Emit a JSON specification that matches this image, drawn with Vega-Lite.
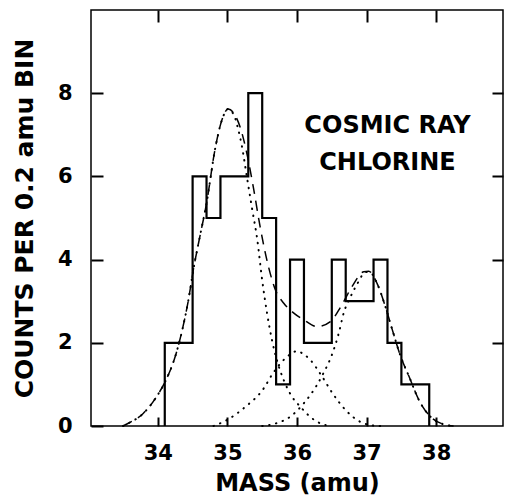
{
  "$schema": "https://vega.github.io/schema/vega-lite/v6.json",
  "width": 412,
  "height": 416,
  "autosize": {"type": "none"},
  "padding": {"left": 91, "top": 10, "right": 3, "bottom": 73},
  "background": "white",
  "config": {
    "view": {"stroke": "black", "strokeWidth": 1.5},
    "axis": {
      "domainColor": "black", "domainWidth": 1.5,
      "tickColor": "black", "tickWidth": 2,
      "labelColor": "black", "labelFont": "DejaVu Sans", "labelFontWeight": "bold", "labelFontSize": 21,
      "titleColor": "black", "titleFont": "DejaVu Sans", "titleFontWeight": "bold", "titleFontSize": 24,
      "grid": false
    }
  },
  "datasets": {
    "hist": [
      {"i": 0, "mass": 34.1, "count": 0},
      {"i": 1, "mass": 34.1, "count": 2},
      {"i": 2, "mass": 34.3, "count": 2},
      {"i": 3, "mass": 34.5, "count": 6},
      {"i": 4, "mass": 34.7, "count": 5},
      {"i": 5, "mass": 34.9, "count": 6},
      {"i": 6, "mass": 35.1, "count": 6},
      {"i": 7, "mass": 35.3, "count": 8},
      {"i": 8, "mass": 35.5, "count": 5},
      {"i": 9, "mass": 35.7, "count": 1},
      {"i": 10, "mass": 35.9, "count": 4},
      {"i": 11, "mass": 36.1, "count": 2},
      {"i": 12, "mass": 36.3, "count": 2},
      {"i": 13, "mass": 36.5, "count": 4},
      {"i": 14, "mass": 36.7, "count": 3},
      {"i": 15, "mass": 36.9, "count": 3},
      {"i": 16, "mass": 37.1, "count": 4},
      {"i": 17, "mass": 37.3, "count": 2},
      {"i": 18, "mass": 37.5, "count": 1},
      {"i": 19, "mass": 37.7, "count": 1},
      {"i": 20, "mass": 37.9, "count": 0}
    ],
    "fit": [
      {"series": "total", "mass": 33.50, "counts": 0.00},
      {"series": "total", "mass": 33.57, "counts": 0.06},
      {"series": "total", "mass": 33.79, "counts": 0.30},
      {"series": "total", "mass": 33.98, "counts": 0.70},
      {"series": "total", "mass": 34.13, "counts": 1.15},
      {"series": "total", "mass": 34.25, "counts": 1.67},
      {"series": "total", "mass": 34.34, "counts": 2.23},
      {"series": "total", "mass": 34.44, "counts": 3.03},
      {"series": "total", "mass": 34.51, "counts": 3.75},
      {"series": "total", "mass": 34.61, "counts": 4.60},
      {"series": "total", "mass": 34.70, "counts": 5.35},
      {"series": "total", "mass": 34.82, "counts": 6.63},
      {"series": "total", "mass": 34.92, "counts": 7.35},
      {"series": "total", "mass": 35.01, "counts": 7.62},
      {"series": "total", "mass": 35.10, "counts": 7.50},
      {"series": "total", "mass": 35.18, "counts": 7.20},
      {"series": "total", "mass": 35.28, "counts": 6.55},
      {"series": "total", "mass": 35.38, "counts": 5.67},
      {"series": "total", "mass": 35.47, "counts": 4.79},
      {"series": "total", "mass": 35.59, "counts": 3.83},
      {"series": "total", "mass": 35.69, "counts": 3.27},
      {"series": "total", "mass": 35.81, "counts": 2.95},
      {"series": "total", "mass": 35.95, "counts": 2.72},
      {"series": "total", "mass": 36.10, "counts": 2.55},
      {"series": "total", "mass": 36.29, "counts": 2.39},
      {"series": "total", "mass": 36.48, "counts": 2.51},
      {"series": "total", "mass": 36.63, "counts": 2.87},
      {"series": "total", "mass": 36.79, "counts": 3.35},
      {"series": "total", "mass": 36.96, "counts": 3.71},
      {"series": "total", "mass": 37.03, "counts": 3.72},
      {"series": "total", "mass": 37.15, "counts": 3.43},
      {"series": "total", "mass": 37.27, "counts": 2.87},
      {"series": "total", "mass": 37.37, "counts": 2.31},
      {"series": "total", "mass": 37.49, "counts": 1.67},
      {"series": "total", "mass": 37.61, "counts": 1.19},
      {"series": "total", "mass": 37.75, "counts": 0.63},
      {"series": "total", "mass": 37.92, "counts": 0.22},
      {"series": "total", "mass": 38.16, "counts": 0.02},
      {"series": "total", "mass": 38.25, "counts": 0.00},

      {"series": "c1", "mass": 33.50, "counts": 0.00},
      {"series": "c1", "mass": 33.57, "counts": 0.06},
      {"series": "c1", "mass": 33.79, "counts": 0.30},
      {"series": "c1", "mass": 33.98, "counts": 0.70},
      {"series": "c1", "mass": 34.13, "counts": 1.15},
      {"series": "c1", "mass": 34.25, "counts": 1.67},
      {"series": "c1", "mass": 34.34, "counts": 2.23},
      {"series": "c1", "mass": 34.44, "counts": 3.03},
      {"series": "c1", "mass": 34.51, "counts": 3.75},
      {"series": "c1", "mass": 34.61, "counts": 4.60},
      {"series": "c1", "mass": 34.70, "counts": 5.35},
      {"series": "c1", "mass": 34.82, "counts": 6.63},
      {"series": "c1", "mass": 34.92, "counts": 7.35},
      {"series": "c1", "mass": 35.01, "counts": 7.62},
      {"series": "c1", "mass": 35.10, "counts": 7.45},
      {"series": "c1", "mass": 35.16, "counts": 7.10},
      {"series": "c1", "mass": 35.21, "counts": 6.71},
      {"series": "c1", "mass": 35.28, "counts": 5.99},
      {"series": "c1", "mass": 35.35, "counts": 5.27},
      {"series": "c1", "mass": 35.43, "counts": 4.47},
      {"series": "c1", "mass": 35.50, "counts": 3.50},
      {"series": "c1", "mass": 35.57, "counts": 2.71},
      {"series": "c1", "mass": 35.64, "counts": 2.07},
      {"series": "c1", "mass": 35.71, "counts": 1.59},
      {"series": "c1", "mass": 35.81, "counts": 1.10},
      {"series": "c1", "mass": 35.93, "counts": 0.70},
      {"series": "c1", "mass": 36.05, "counts": 0.46},
      {"series": "c1", "mass": 36.19, "counts": 0.22},
      {"series": "c1", "mass": 36.34, "counts": 0.06},
      {"series": "c1", "mass": 36.50, "counts": 0.00},

      {"series": "c2", "mass": 34.80, "counts": 0.00},
      {"series": "c2", "mass": 35.00, "counts": 0.15},
      {"series": "c2", "mass": 35.25, "counts": 0.45},
      {"series": "c2", "mass": 35.52, "counts": 0.90},
      {"series": "c2", "mass": 35.64, "counts": 1.23},
      {"series": "c2", "mass": 35.76, "counts": 1.50},
      {"series": "c2", "mass": 35.90, "counts": 1.72},
      {"series": "c2", "mass": 36.00, "counts": 1.80},
      {"series": "c2", "mass": 36.10, "counts": 1.72},
      {"series": "c2", "mass": 36.19, "counts": 1.59},
      {"series": "c2", "mass": 36.36, "counts": 1.19},
      {"series": "c2", "mass": 36.51, "counts": 0.79},
      {"series": "c2", "mass": 36.70, "counts": 0.38},
      {"series": "c2", "mass": 36.91, "counts": 0.10},
      {"series": "c2", "mass": 37.06, "counts": 0.02},
      {"series": "c2", "mass": 37.20, "counts": 0.00},

      {"series": "c3", "mass": 35.50, "counts": 0.00},
      {"series": "c3", "mass": 35.69, "counts": 0.06},
      {"series": "c3", "mass": 35.90, "counts": 0.22},
      {"series": "c3", "mass": 36.10, "counts": 0.55},
      {"series": "c3", "mass": 36.27, "counts": 0.94},
      {"series": "c3", "mass": 36.38, "counts": 1.27},
      {"series": "c3", "mass": 36.51, "counts": 1.75},
      {"series": "c3", "mass": 36.60, "counts": 2.23},
      {"series": "c3", "mass": 36.67, "counts": 2.71},
      {"series": "c3", "mass": 36.77, "counts": 3.11},
      {"series": "c3", "mass": 36.87, "counts": 3.43},
      {"series": "c3", "mass": 36.96, "counts": 3.67},
      {"series": "c3", "mass": 37.00, "counts": 3.70},
      {"series": "c3", "mass": 37.08, "counts": 3.65},
      {"series": "c3", "mass": 37.15, "counts": 3.43},
      {"series": "c3", "mass": 37.27, "counts": 2.87},
      {"series": "c3", "mass": 37.37, "counts": 2.31},
      {"series": "c3", "mass": 37.49, "counts": 1.67},
      {"series": "c3", "mass": 37.61, "counts": 1.19},
      {"series": "c3", "mass": 37.75, "counts": 0.63},
      {"series": "c3", "mass": 37.92, "counts": 0.22},
      {"series": "c3", "mass": 38.16, "counts": 0.02},
      {"series": "c3", "mass": 38.25, "counts": 0.00}
    ],
    "labels": [
      {"mass": 37.30, "counts": 7.22, "text": "COSMIC RAY"},
      {"mass": 37.30, "counts": 6.32, "text": "CHLORINE"}
    ]
  },
  "layer": [
    {
      "data": {"name": "hist"},
      "mark": {"type": "line", "interpolate": "step-after", "color": "black", "strokeWidth": 2.2},
      "encoding": {
        "x": {"field": "mass", "type": "quantitative",
              "scale": {"domain": [33.04, 38.96], "nice": false, "zero": false},
              "axis": {"orient": "bottom", "title": "MASS (amu)", "values": [34, 35, 36, 37, 38], "zindex": 1,
                       "domain": false, "offset": -9, "tickSize": 9, "tickColor": "#000000", "tickWidth": 2,
                       "labelPadding": 16, "titleY": 73, "titleBaseline": "alphabetic"}},
        "y": {"field": "count", "type": "quantitative",
              "scale": {"domain": [0, 10], "nice": false},
              "axis": {"orient": "left", "title": "COUNTS PER 0.2 amu BIN", "values": [0, 2, 4, 6, 8], "zindex": 1,
                       "domain": false, "offset": -12, "tickSize": 12, "tickColor": "#000000", "tickWidth": 2,
                       "labelPadding": 19, "titleX": -71, "titleBaseline": "alphabetic", "titleFontSize": 25}},
        "order": {"field": "i", "type": "quantitative"}
      }
    },
    {
      "data": {"name": "fit"},
      "transform": [{"filter": "datum.series === 'total'"}],
      "mark": {"type": "line", "interpolate": "monotone", "color": "black", "strokeWidth": 1.5, "strokeDash": [10, 7]},
      "encoding": {
        "x": {"field": "mass", "type": "quantitative", "scale": {"domain": [33.04, 38.96], "nice": false, "zero": false}, "axis": null},
        "y": {"field": "counts", "type": "quantitative", "scale": {"domain": [0, 10], "nice": false}, "axis": null}
      }
    },
    {
      "data": {"name": "fit"},
      "transform": [{"filter": "datum.series !== 'total'"}],
      "mark": {"type": "line", "interpolate": "monotone", "color": "black", "strokeWidth": 2, "strokeDash": [0.5, 6.5], "strokeCap": "round"},
      "encoding": {
        "x": {"field": "mass", "type": "quantitative", "scale": {"domain": [33.04, 38.96], "nice": false, "zero": false}, "axis": null},
        "y": {"field": "counts", "type": "quantitative", "scale": {"domain": [0, 10], "nice": false}, "axis": null},
        "detail": {"field": "series", "type": "nominal"}
      }
    },
    {
      "data": {"name": "labels"},
      "mark": {"type": "text", "font": "DejaVu Sans", "fontWeight": "bold", "fontSize": 24, "color": "black", "align": "center", "baseline": "middle"},
      "encoding": {
        "x": {"field": "mass", "type": "quantitative",
              "scale": {"domain": [33.04, 38.96], "nice": false, "zero": false},
              "axis": {"orient": "top", "title": null, "labels": false, "domain": false, "values": [34, 35, 36, 37, 38], "zindex": 1,
                       "tickSize": 12, "tickColor": "#000000", "tickWidth": 2, "offset": -12}},
        "y": {"field": "counts", "type": "quantitative",
              "scale": {"domain": [0, 10], "nice": false},
              "axis": {"orient": "right", "title": null, "labels": false, "domain": false, "values": [2, 4, 6, 8], "zindex": 1,
                       "tickSize": 11, "tickColor": "#000000", "tickWidth": 2, "offset": -11}},
        "text": {"field": "text"}
      }
    }
  ],
  "resolve": {"axis": {"x": "independent", "y": "independent"}}
}
